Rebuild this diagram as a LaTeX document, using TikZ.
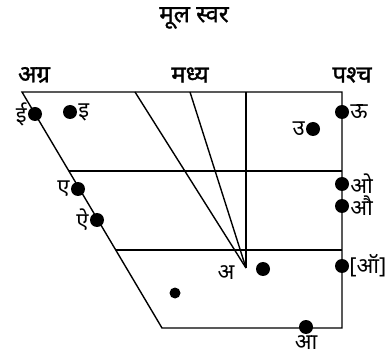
\documentclass[tikz,border=0pt]{standalone}
\usepackage{fontspec}
\newfontfamily\devfont[Script=Devanagari]{Noto Sans}
\newfontfamily\devhead[Script=Devanagari, FakeBold=1.2]{Noto Sans}
\tikzset{
  vdot/.style={circle, fill=black, inner sep=0pt, minimum size=14pt},
  vsmall/.style={circle, fill=black, inner sep=0pt, minimum size=11pt},
  vlabel/.style={font=\devfont\fontsize{22}{22}\selectfont, inner sep=1pt},
  vhead/.style={font=\devhead\fontsize{24}{24}\selectfont, inner sep=0pt},
  vline/.style={line width=1.4pt}
}
\begin{document}
\begin{tikzpicture}[x=1pt, y=-1pt]
\useasboundingbox (0,0) rectangle (388,363);

% ================================================================
% Frame corners
% ================================================================
\coordinate (tl) at (22,92);
\coordinate (tr) at (342,92);
\coordinate (br) at (342,328);
\coordinate (bl) at (162,328);
\coordinate (ml) at (69,171);
\coordinate (mr) at (342,171);
\coordinate (ll) at (115.7,250);
\coordinate (lr) at (342,250);
\coordinate (ca) at (135,92);
\coordinate (cb) at (190,92);
\coordinate (cc) at (246,92);
\coordinate (apex) at (246,268);

% ================================================================
% Titles
% ================================================================
\node[vhead] (title) at (194,18) {मूल स्वर};
\node[vhead] (front) at (34,75) {अग्र};
\node[vhead] (central) at (190,75) {मध्य};
\node[vhead] (back) at (352,75) {पश्च};

% ================================================================
% Quadrilateral and inner lines
% ================================================================
\draw[vline] (tl) -- (tr) -- (br) -- (bl) -- cycle;
\draw[vline] (ml) -- (mr);
\draw[vline] (ll) -- (lr);
\draw[vline] (ca) -- (apex);
\draw[vline] (cb) -- (apex);
\draw[vline] (cc) -- (apex);

% ================================================================
% Vowel points
% ================================================================
\node[vdot] (ii) at (35,114) {};
\node[vlabel, anchor=east] at (ii.west) {ई};
\node[vdot] (i) at (70,112) {};
\node[vlabel, anchor=west] at (i.east) {इ};
\node[vdot] (e) at (78,189) {};
\node[vlabel, anchor=east] at (e.west) {ए};
\node[vdot] (ai) at (97,220) {};
\node[vlabel, anchor=east] at (ai.west) {ऐ};
\node[vdot] (uu) at (342,112) {};
\node[vlabel, anchor=west] at (uu.east) {ऊ};
\node[vdot] (u) at (313,129) {};
\node[vlabel, anchor=east] at (u.west) {उ};
\node[vdot] (o) at (342,184) {};
\node[vlabel, anchor=west] at (o.east) {ओ};
\node[vdot] (au) at (342,206) {};
\node[vlabel, anchor=west] at (au.east) {औ};
\node[vdot] (oo) at (342,266) {};
\node[vlabel, anchor=west, inner sep=0pt] at (oo.east) {[ऑ]};
\node[vdot] (a) at (263,269) {};
\node[vlabel] at (226,273) {अ};
\node[vsmall] (x) at (175,293) {};
\node[vdot] (aa) at (306,327) {};
\node[vlabel, anchor=north] at (aa.south) {आ};

\end{tikzpicture}
\end{document}
